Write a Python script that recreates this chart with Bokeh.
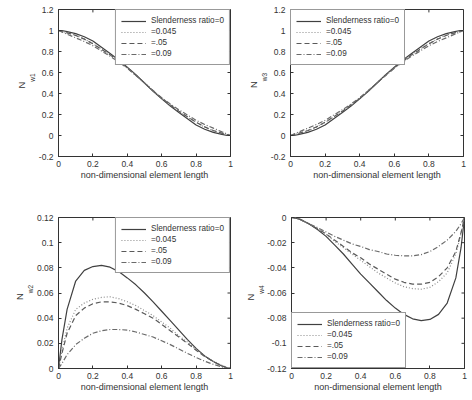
from bokeh.plotting import figure
from bokeh.models import Range1d, FixedTicker, Title
from bokeh.layouts import column, row
from bokeh.embed import file_html
from bokeh.resources import INLINE

# ---------------- data ----------------
x = [0, 0.02, 0.05, 0.1, 0.15, 0.2, 0.25, 0.3, 0.35, 0.4, 0.45, 0.5,
     0.55, 0.6, 0.65, 0.7, 0.75, 0.8, 0.85, 0.9, 0.95, 0.98, 1.0]

series_names = ["Slenderness ratio=0", "=0.045", "=.05", "=0.09"]

nw1_s0 = [1, 1.0, 0.99, 0.97, 0.94, 0.9, 0.84, 0.78, 0.72, 0.65, 0.58, 0.5,
          0.42, 0.35, 0.28, 0.22, 0.16, 0.1, 0.06, 0.03, 0.01, 0.0, 0]
nw1_s045 = [1, 0.99, 0.98, 0.955, 0.92, 0.875, 0.825, 0.77, 0.71, 0.645, 0.575, 0.5,
            0.425, 0.355, 0.29, 0.23, 0.175, 0.125, 0.08, 0.045, 0.02, 0.008, 0]
nw1_s05 = [1, 0.99, 0.978, 0.953, 0.918, 0.873, 0.822, 0.768, 0.708, 0.644, 0.573, 0.5,
           0.427, 0.356, 0.292, 0.232, 0.178, 0.127, 0.082, 0.047, 0.022, 0.009, 0]
nw1_s09 = [1, 0.985, 0.965, 0.93, 0.895, 0.855, 0.805, 0.755, 0.7, 0.64, 0.572, 0.5,
           0.428, 0.36, 0.3, 0.245, 0.195, 0.145, 0.105, 0.07, 0.035, 0.015, 0]

nw3_s0 = [0, 0.0, 0.01, 0.03, 0.06, 0.1, 0.16, 0.22, 0.28, 0.35, 0.42, 0.5,
          0.58, 0.65, 0.72, 0.78, 0.84, 0.9, 0.94, 0.97, 0.99, 1.0, 1]
nw3_s045 = [0, 0.008, 0.02, 0.045, 0.08, 0.125, 0.175, 0.23, 0.29, 0.355, 0.425, 0.5,
            0.575, 0.645, 0.71, 0.77, 0.825, 0.875, 0.92, 0.955, 0.98, 0.99, 1]
nw3_s05 = [0, 0.009, 0.022, 0.047, 0.082, 0.127, 0.178, 0.232, 0.292, 0.356, 0.427, 0.5,
           0.573, 0.644, 0.708, 0.768, 0.822, 0.873, 0.918, 0.953, 0.978, 0.99, 1]
nw3_s09 = [0, 0.015, 0.035, 0.07, 0.105, 0.145, 0.195, 0.245, 0.3, 0.36, 0.428, 0.5,
           0.572, 0.64, 0.7, 0.755, 0.805, 0.855, 0.895, 0.93, 0.965, 0.985, 1]

nw2_s0 = [0, 0.023, 0.047, 0.0695, 0.078, 0.081, 0.082, 0.0805, 0.077, 0.072, 0.0665, 0.060,
          0.053, 0.0455, 0.038, 0.0305, 0.023, 0.016, 0.010, 0.0055, 0.002, 0.0005, 0]
nw2_s045 = [0, 0.014, 0.032, 0.047, 0.052, 0.055, 0.0565, 0.057, 0.0555, 0.053, 0.050, 0.046,
            0.042, 0.037, 0.032, 0.026, 0.021, 0.015, 0.010, 0.0058, 0.0025, 0.0008, 0]
nw2_s05 = [0, 0.012, 0.028, 0.042, 0.048, 0.0515, 0.053, 0.053, 0.052, 0.050, 0.047, 0.0435,
           0.040, 0.035, 0.030, 0.025, 0.020, 0.0145, 0.0095, 0.0055, 0.0022, 0.0007, 0]
nw2_s09 = [0, 0.004, 0.011, 0.019, 0.024, 0.028, 0.030, 0.031, 0.031, 0.0305, 0.029, 0.027,
           0.025, 0.022, 0.019, 0.0155, 0.012, 0.0088, 0.0058, 0.0033, 0.0013, 0.0004, 0]

nw4_s0 = [0, -0.0003, -0.0015, -0.005, -0.0095, -0.015, -0.022, -0.029, -0.037, -0.045, -0.052, -0.059,
          -0.066, -0.072, -0.077, -0.0805, -0.082, -0.081, -0.077, -0.068, -0.048, -0.024, 0]
nw4_s045 = [0, -0.0003, -0.0015, -0.005, -0.009, -0.0135, -0.019, -0.024, -0.029, -0.034, -0.039, -0.044,
            -0.048, -0.052, -0.055, -0.0565, -0.057, -0.0555, -0.051, -0.044, -0.029, -0.013, 0]
nw4_s05 = [0, -0.0003, -0.0015, -0.005, -0.009, -0.013, -0.018, -0.023, -0.028, -0.032, -0.037, -0.041,
           -0.045, -0.049, -0.0515, -0.053, -0.053, -0.0515, -0.047, -0.040, -0.027, -0.012, 0]
nw4_s09 = [0, -0.0003, -0.0015, -0.005, -0.008, -0.0115, -0.015, -0.018, -0.021, -0.023, -0.0255, -0.027,
           -0.029, -0.030, -0.0305, -0.0305, -0.0295, -0.027, -0.023, -0.018, -0.011, -0.005, 0]

x_ticks = [0, 0.2, 0.4, 0.6, 0.8, 1]
x_tick_labels = ["0", "0.2", "0.4", "0.6", "0.8", "1"]
y13_ticks = [-0.2, 0, 0.2, 0.4, 0.6, 0.8, 1, 1.2]
y13_tick_labels = ["-0.2", "0", "0.2", "0.4", "0.6", "0.8", "1", "1.2"]
y2_ticks = [0, 0.02, 0.04, 0.06, 0.08, 0.1, 0.12]
y2_tick_labels = ["0", "0.02", "0.04", "0.06", "0.08", "0.1", "0.12"]
y4_ticks = [-0.12, -0.1, -0.08, -0.06, -0.04, -0.02, 0]
y4_tick_labels = ["-0.12", "-0.1", "-0.08", "-0.06", "-0.04", "-0.02", "0"]

x_label = "non-dimensional element length"

# ---------------- styling ----------------
FONT = "Liberation Sans"
INK = "#333333"
line_styles = [
    dict(line_color="#404040", line_dash="solid", line_width=1.2),
    dict(line_color="#8a8a8a", line_dash="1 2", line_width=1.2),
    dict(line_color="#5a5a5a", line_dash="5 3", line_width=1.2),
    dict(line_color="#6a6a6a", line_dash="5 2 1 2", line_width=1.2),
]

FIG_W, FIG_H = 236, 200
TICK = 3


def make_panel(origin, frame, yr, yticks, ylabels, series, sub, legend_loc):
    ox, oy = origin
    fl, ft, fw, fh = frame
    bl = fl - ox
    bt = ft - oy
    p = figure(width=FIG_W, height=FIG_H, output_backend="svg", toolbar_location=None,
               x_range=Range1d(0, 1), y_range=Range1d(*yr),
               min_border_left=bl, min_border_top=bt,
               min_border_right=FIG_W - bl - fw, min_border_bottom=FIG_H - bt - fh)
    p.grid.visible = False
    p.outline_line_color = INK
    p.outline_line_width = 1
    p.background_fill_color = "white"
    p.border_fill_color = "white"

    for ys, name, st in zip(series, series_names, line_styles):
        p.line(x, ys, legend_label=name, **st)

    # mirrored inward ticks on the top and right edges (box on)
    xs_ = 3.0 / fw
    ys_ = TICK / fh * (yr[1] - yr[0])
    p.segment(x0=x_ticks, x1=x_ticks, y0=[yr[1]] * len(x_ticks),
              y1=[yr[1] - ys_] * len(x_ticks), line_color=INK, line_width=1)
    p.segment(x0=[1.0] * len(yticks), x1=[1.0 - xs_] * len(yticks), y0=yticks, y1=yticks,
              line_color=INK, line_width=1)

    xa = p.xaxis[0]
    ya = p.yaxis[0]
    xa.ticker = FixedTicker(ticks=x_ticks)
    xa.major_label_overrides = dict(zip(x_ticks, x_tick_labels))
    ya.ticker = FixedTicker(ticks=yticks)
    ya.major_label_overrides = dict(zip(yticks, ylabels))
    for ax in (xa, ya):
        ax.major_tick_in = TICK
        ax.major_tick_out = 0
        ax.minor_tick_line_color = None
        ax.major_tick_line_color = INK
        ax.axis_line_color = INK
        ax.major_label_text_font = FONT
        ax.major_label_text_font_size = "8.5px"
        ax.major_label_text_color = INK
    xa.major_label_standoff = 4
    ya.major_label_standoff = 5
    xa.axis_label = x_label
    xa.axis_label_text_font = FONT
    xa.axis_label_text_font_size = "9px"
    xa.axis_label_text_font_style = "normal"
    xa.axis_label_text_color = INK
    xa.axis_label_standoff = 0

    # y label: "N" with subscript, as two stacked left-side titles
    n_w = 0.722 * 9.5
    s_w = 1.278 * 6.5
    half = (n_w + s_w) / 2.0
    t_sub = Title(text=sub, align="left", offset=fh / 2.0 - half + n_w,
                  text_font=FONT, text_font_size="6.5px", text_font_style="normal",
                  text_color=INK, standoff=0, text_line_height=0.4)
    t_n = Title(text="N", align="left", offset=fh / 2.0 - half,
                text_font=FONT, text_font_size="9.5px", text_font_style="normal",
                text_color=INK, standoff=0)
    p.add_layout(t_sub, "left")
    p.add_layout(t_n, "left")

    lg = p.legend[0]
    lg.location = legend_loc
    lg.label_text_font = FONT
    lg.label_text_font_size = "8.2px"
    lg.label_text_color = INK
    lg.label_height = 11
    lg.glyph_height = 10
    lg.glyph_width = 25
    lg.label_standoff = 5
    lg.spacing = 0
    lg.padding = 5
    lg.margin = 0
    lg.border_line_color = INK
    lg.border_line_width = 1
    lg.background_fill_alpha = 1
    return p


p1 = make_panel((0, 0), (58, 5, 172, 151), (-0.2, 1.2), y13_ticks, y13_tick_labels,
                [nw1_s0, nw1_s045, nw1_s05, nw1_s09], "w1", "top_right")
p2 = make_panel((236, 0), (290, 9, 173, 152), (-0.2, 1.2), y13_ticks, y13_tick_labels,
                [nw3_s0, nw3_s045, nw3_s05, nw3_s09], "w3", "top_left")
p3 = make_panel((0, 200), (58, 216, 172, 152), (0, 0.12), y2_ticks, y2_tick_labels,
                [nw2_s0, nw2_s045, nw2_s05, nw2_s09], "w2", "top_right")
p4 = make_panel((236, 200), (291, 217, 173, 151), (-0.12, 0), y4_ticks, y4_tick_labels,
                [nw4_s0, nw4_s045, nw4_s05, nw4_s09], "w4", "bottom_left")

layout = column(row(p1, p2), row(p3, p4))

with open("out.html", "w") as f:
    f.write(file_html(layout, INLINE))
